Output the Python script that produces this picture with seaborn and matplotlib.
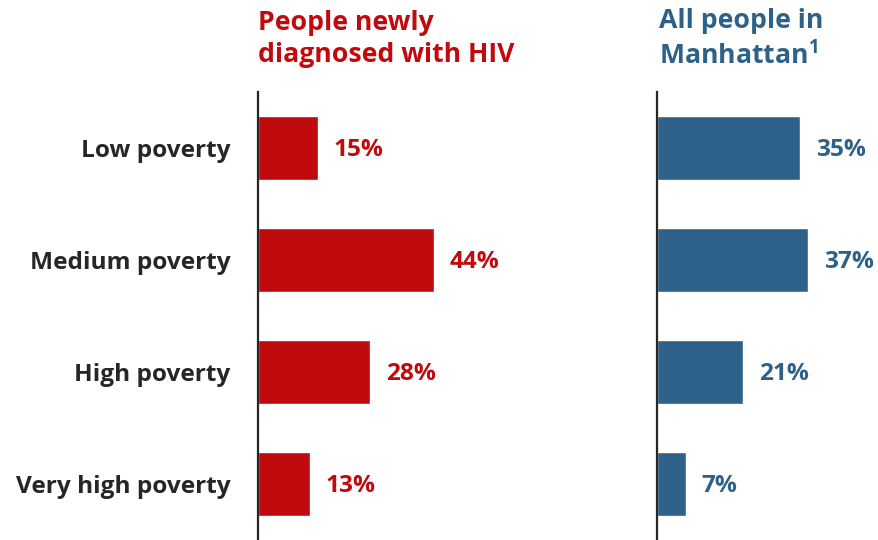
import matplotlib.pyplot as plt
import pandas as pd
import seaborn as sns

# ----------------------------------------------------------------------------------------------------------------------
# Data
categories = ['Low poverty', 'Medium poverty', 'High poverty', 'Very high poverty']
hiv_pct = [15, 44, 28, 13]
manhattan_pct = [35, 37, 21, 7]

RED = '#C00A0D'
BLUE = '#2E6189'
GREY = '#262626'

sns.set_theme(style='white')
plt.rcParams['font.family'] = ['Open Sans', 'DejaVu Sans']
plt.rcParams['font.weight'] = 'bold'
plt.rcParams['mathtext.fontset'] = 'custom'
plt.rcParams['mathtext.bf'] = 'Open Sans:bold'

df = pd.DataFrame({'category': categories, 'hiv': hiv_pct, 'manhattan': manhattan_pct})

W, H = 879, 540
fig = plt.figure(figsize=(W / 100, H / 100), dpi=100)
ax_l = fig.add_axes([258 / W, 0, 282 / W, 448 / H])
ax_r = fig.add_axes([657 / W, 0, 222 / W, 448 / H])

for ax, col, color, xmax in [(ax_l, 'hiv', RED, 70.5), (ax_r, 'manhattan', BLUE, 54.5)]:
    sns.barplot(data=df, x=col, y='category', orient='h', color=color, saturation=1,
                width=0.57, ax=ax)
    ax.set_xlim(0, xmax)
    ax.set_ylim(3.5, -0.5)
    ax.set_xlabel('')
    ax.set_ylabel('')
    ax.set_xticks([])
    for s in ['top', 'right', 'bottom']:
        ax.spines[s].set_visible(False)
    ax.spines['left'].set_color(GREY)
    ax.spines['left'].set_linewidth(1.6)
    for i, v in enumerate(df[col]):
        ax.text(v + 4, i + 0.02, f'{v}%', color=color, fontsize=17.6, fontweight='bold',
                va='center', ha='left')

ax_l.tick_params(axis='y', length=0, pad=20, labelsize=17.6, labelcolor=GREY)
for lbl in ax_l.get_yticklabels():
    lbl.set_fontweight('bold')
ax_r.set_yticklabels([])
ax_r.tick_params(axis='y', length=0)

# Panel titles
fig.text(258 / W, 1 - 39 / H, 'People newly\ndiagnosed with HIV', color=RED, fontsize=19.2,
         fontweight='bold', ha='left', va='center', linespacing=1.3)
fig.text(659 / W, 1 - 39 / H, 'All people in\nManhattan$^{\\mathbf{1}}$', color=BLUE, fontsize=19.2,
         fontweight='bold', ha='left', va='center', linespacing=1.3)

fig.savefig('out.png', dpi=100)
